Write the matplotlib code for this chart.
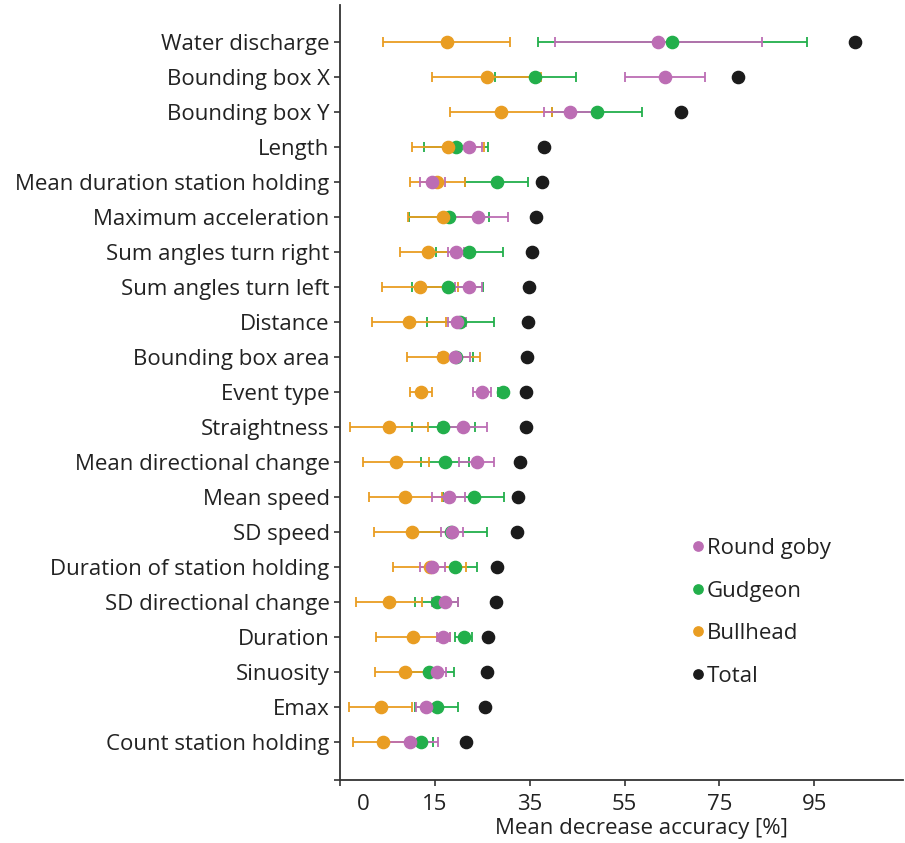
import matplotlib
matplotlib.use("Agg")
import matplotlib.pyplot as plt
from matplotlib.lines import Line2D
import numpy as np

plt.rcParams['font.family'] = ['Open Sans', 'DejaVu Sans']

categories = ["Water discharge", "Bounding box X", "Bounding box Y", "Length",
              "Mean duration station holding", "Maximum acceleration",
              "Sum angles turn right", "Sum angles turn left", "Distance",
              "Bounding box area", "Event type", "Straightness",
              "Mean directional change", "Mean speed", "SD speed",
              "Duration of station holding", "SD directional change",
              "Duration", "Sinuosity", "Emax", "Count station holding"]

round_goby = [62.1, 63.5, 43.4, 22.1, 14.5, 24.1, 19.4, 22.1, 19.7, 19.2, 24.9,
              20.9, 23.8, 17.9, 18.6, 14.5, 17.2, 16.8, 15.4, 13.1, 9.7]
round_goby_err = [21.8, 8.4, 5.3, 2.8, 2.6, 6.3, 1.7, 2.9, 1.9, 3.3, 1.9,
                  5.0, 3.7, 3.5, 2.3, 2.7, 2.7, 1.3, 1.9, 2.0, 6.0]

gudgeon = [65.1, 36.2, 49.2, 19.5, 28.0, 18.0, 22.3, 17.7, 20.4, 19.5, 29.3,
           16.8, 17.2, 23.2, 18.3, 19.3, 15.4, 21.1, 13.8, 15.4, 12.0]
gudgeon_err = [28.4, 8.6, 9.5, 6.8, 6.6, 8.4, 7.0, 7.5, 7.0, 3.5, 1.0,
               6.6, 5.1, 6.4, 7.6, 4.5, 4.5, 1.8, 5.2, 4.5, 2.7]

bullhead = [17.5, 25.9, 28.9, 17.8, 15.5, 16.7, 13.6, 11.9, 9.5, 16.8, 12.0,
            5.3, 6.8, 8.8, 10.2, 13.9, 5.3, 10.4, 8.6, 3.6, 4.1]
bullhead_err = [13.4, 11.5, 10.8, 7.6, 5.8, 7.4, 5.9, 8.0, 7.8, 7.7, 2.3,
                8.2, 7.0, 7.7, 8.0, 7.7, 6.9, 7.8, 6.3, 6.6, 6.4]

total = [103.5, 79.0, 67.0, 38.1, 37.5, 36.3, 35.4, 34.9, 34.6, 34.4, 34.2,
         34.2, 33.0, 32.5, 32.4, 28.2, 27.8, 26.3, 25.9, 25.5, 21.5]

series_names = ["Round goby", "Gudgeon", "Bullhead", "Total"]
colors = {"Round goby": "#BC6DB4", "Gudgeon": "#22AF4B",
          "Bullhead": "#E99D22", "Total": "#1B1B1B"}

n = len(categories)
y = np.arange(n)[::-1].astype(float)

W, H = 905, 843
top_px, bot_px = 5, 779.5
left_px, right_px = 340, 903
fig = plt.figure(figsize=(W / 100, H / 100), dpi=100)
ax = fig.add_axes([left_px / W, 1 - bot_px / H, (right_px - left_px) / W,
                   (bot_px - top_px) / H])

ms = 8.8
for name, vals, errs in [("Gudgeon", gudgeon, gudgeon_err),
                         ("Bullhead", bullhead, bullhead_err),
                         ("Round goby", round_goby, round_goby_err)]:
    ax.errorbar(vals, y, xerr=errs, fmt='o', color=colors[name], ms=ms,
                elinewidth=1.3, capsize=3.8, capthick=1.3, zorder=3)
ax.plot(total, y, 'o', color=colors["Total"], ms=ms, zorder=4)

ybot = -1.07
ax.set_xlim(-5, 113.7)
ax.set_ylim(ybot, n - 1 + 1.06)

ax.set_xticks([-5, 0, 15, 35, 55, 75, 95])
ax.set_xticklabels(['', '0', '15', '35', '55', '75', '95'], fontsize=16)
ax.xaxis.get_major_ticks()[1].tick1line.set_visible(False)
ax.set_yticks([ybot] + list(y))
ax.set_yticklabels([''] + categories, fontsize=16)
ax.tick_params(axis='both', direction='out', length=4.5, width=1.2, color='#333333')
ax.tick_params(axis='y', pad=3, labelcolor='#222222')
ax.tick_params(axis='x', pad=6, labelcolor='#222222')

ax.set_xlabel("Mean decrease accuracy [%]", fontsize=16, color='#222222')
ax.xaxis.set_label_coords((641 - left_px) / (right_px - left_px), -0.050)

for s in ['top', 'right']:
    ax.spines[s].set_visible(False)
for s in ['left', 'bottom']:
    ax.spines[s].set_linewidth(1.3)
    ax.spines[s].set_color('#333333')

handles = [Line2D([0], [0], marker='o', linestyle='none', color=colors[s],
                  markersize=6.7) for s in series_names]
leg = fig.legend(handles, series_names, loc='upper left',
                 bbox_to_anchor=(691 / W, 1 - 538 / H), frameon=False,
                 fontsize=16, handlelength=0.6, handletextpad=0.1,
                 labelspacing=0.97, borderaxespad=0, borderpad=0)
for t in leg.get_texts():
    t.set_color('#222222')

fig.savefig("out.png", dpi=100)
